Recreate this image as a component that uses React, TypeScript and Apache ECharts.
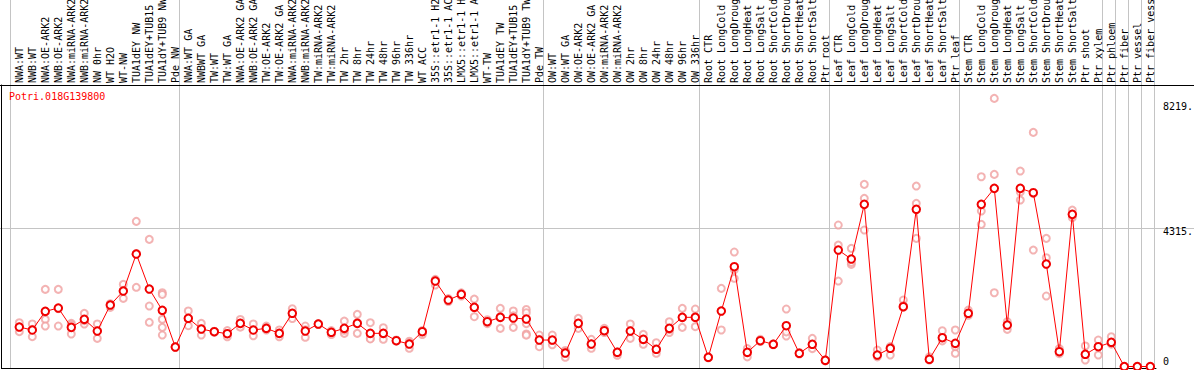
import React, { useEffect, useRef } from 'react';
import * as echarts from 'echarts';

const geneId = 'Potri.018G139800';

const categories = [
  'NWA:WT', 'NWB:WT', 'NWA:OE-ARK2', 'NWB:OE-ARK2', 'NWA:miRNA-ARK2', 'NWB:miRNA-ARK2', 'NW 0hr', 'WT H2O', 'WT-NW',
  'TUA1dEY NW', 'TUA1dEY+TUB15', 'TUA1dY+TUB9 NW', 'Pde NW',
  'NWA:WT GA', 'NWBWT GA', 'TW:WT', 'TW:WT GA', 'NWA:OE-ARK2 GA', 'NWB:OE-ARK2 GA', 'TW:OE-ARK2', 'TW:OE-ARK2 GA',
  'NWA:miRNA-ARK2', 'NWB:miRNA-ARK2', 'TW:miRNA-ARK2', 'TW:miRNA-ARK2', 'TW 2hr', 'TW 8hr', 'TW 24hr', 'TW 48hr',
  'TW 96hr', 'TW 336hr', 'WT ACC', '35S::etr1-1 H2O', '35S::etr1-1 ACC', 'LMX5::etr1-1 H2O', 'LMX5::etr1-1 ACC',
  'WT-TW', 'TUA1dEY TW', 'TUA1dEY+TUB15', 'TUA1dY+TUB9 TW', 'Pde TW',
  'OW:WT', 'OW:WT GA', 'OW:OE-ARK2', 'OW:OE-ARK2 GA', 'OW:miRNA-ARK2', 'OW:miRNA-ARK2', 'OW 2hr', 'OW 8hr',
  'OW 24hr', 'OW 48hr', 'OW 96hr', 'OW 336hr',
  'Root CTR', 'Root LongCold', 'Root LongDrought', 'Root LongHeat', 'Root LongSalt', 'Root ShortCold',
  'Root ShortDrought', 'Root ShortHeat', 'Root ShortSalt', 'Ptr root',
  'Leaf CTR', 'Leaf LongCold', 'Leaf LongDrought', 'Leaf LongHeat', 'Leaf LongSalt', 'Leaf ShortCold',
  'Leaf ShortDrought', 'Leaf ShortHeat', 'Leaf ShortSalt', 'Ptr leaf',
  'Stem CTR', 'Stem LongCold', 'Stem LongDrought', 'Stem LongHeat', 'Stem LongSalt', 'Stem ShortCold',
  'Stem ShortDrought', 'Stem ShortHeat', 'Stem ShortSalt', 'Ptr shoot', 'Ptr xylem',
  'Ptr phloem', 'Ptr fiber', 'Ptr vessel', 'Ptr fiber vessel',
];

// category index where each sample group starts (and the end)
const groupBoundaries = [0, 13, 41, 53, 63, 73, 84, 85, 86, 87, 88];

const meanValues = [
  1233, 1140, 1723, 1826, 1223, 1473, 1108, 1920, 2357, 3512, 2420, 1754, 609,
  1505, 1171, 1087, 1024, 1348, 1140, 1192, 1036, 1661, 1108, 1327, 1068, 1192, 1348, 1036, 1036,
  806, 702, 1087, 2669, 2076, 2254, 1848, 1399, 1536, 1514, 1483, 827,
  827, 421, 1348, 702, 1118, 443, 1108, 849, 537, 1192, 1536, 1536,
  287, 1733, 3116, 443, 806, 693, 1274, 412, 693, 193,
  3637, 3356, 5064, 359, 568, 1867, 4908, 225, 899, 724,
  1661, 5064, 5563, 1296, 5563, 5427, 3200, 462, 4751, 381, 618,
  755, 0, 0, 0,
];

const replicateValues = [
  [1368, 1233, 1087], [1327, 1160, 931], [2410, 1474, 1264], [2410, 1264, 1805], [1348, 1300, 1015],
  [1661, 1327, 1430], [1327, 1108, 880], [1848, 1960, 1940], [2566, 2129, 2380], [4533, 2473, 3530],
  [3971, 1889, 1380], [2304, 2250, 1474, 1223, 983], [609, 620, 600],
  [1733, 1274, 1505], [1348, 983, 1180], [1087, 1100, 1070], [1120, 930, 1024], [1470, 1230, 1348],
  [1327, 960, 1140], [1260, 1192, 1140], [1140, 930, 1036], [1805, 1500, 1661], [1264, 912, 1150],
  [1327, 1340, 1310], [1120, 1000, 1068], [1420, 1036, 1130], [1630, 1036, 1380], [1368, 880, 860],
  [1212, 849, 1040], [806, 830, 790], [790, 568, 740], [1120, 1000, 1087], [2720, 2544, 2700],
  [2120, 2030, 2076], [2300, 2254, 2200], [2107, 1555, 1850], [1460, 1340, 1399], [1817, 1192, 1560],
  [1733, 1223, 1580], [1780, 1680, 1340, 1015, 980], [983, 618, 850],
  [983, 680, 820], [500, 287, 470], [1505, 1190, 1348], [849, 568, 700], [1192, 1060, 1118],
  [443, 350, 460], [1327, 880, 1108], [1005, 693, 849], [743, 412, 537], [1399, 1060, 1150],
  [1817, 1223, 1536], [1795, 1243, 1560],
  [287, 300, 270], [2441, 1140, 1733], [3575, 2754, 3020], [560, 300, 443], [850, 780, 806],
  [693, 710, 680], [1795, 952, 1080], [412, 440, 390], [880, 560, 693], [193, 210, 180],
  [4418, 3793, 2669], [3690, 3191, 3250], [5688, 5251, 4262], [515, 300, 359], [620, 359, 580],
  [2076, 1850, 1900], [5635, 5095, 4002], [300, 200, 225], [1118, 800, 900], [1140, 412, 620],
  [1760, 1600, 1661], [5926, 4855, 4439], [8373, 6000, 2304], [1161, 1400, 1296], [6104, 5450, 5198],
  [7311, 5400, 3637], [4002, 3397, 2201], [560, 400, 462], [4886, 4650, 4751], [640, 203, 381],
  [827, 359, 618],
  [931, 700, 755], [0], [0], [0],
];

const yTickValues = [0, 4315, 8219];
const yTickLabels = ['0', '4315.', '8219.'];
const yGridValues = [4315];

const MONO = '"DejaVu Sans Mono", "Liberation Mono", monospace';
const GRID_COLOR = '#c4c4c4';

export default function App() {
  const ref = useRef<HTMLDivElement>(null);

  useEffect(() => {
    if (!ref.current) return;
    const chart = echarts.init(ref.current, undefined, { renderer: 'svg' });

    const scatterData: [number, number][] = [];
    replicateValues.forEach((arr, i) => arr.forEach((v) => scatterData.push([i, v])));

    const yMin = -62;
    const yMax = 8791;
    const hidden = {
      axisLine: { show: false },
      axisTick: { show: false },
      axisLabel: { show: false },
      splitLine: { show: false },
    };

    chart.setOption({
      animation: false,
      backgroundColor: '#ffffff',
      title: {
        text: geneId,
        left: 9,
        top: 91,
        padding: 0,
        textStyle: { color: '#ff0000', fontFamily: MONO, fontSize: 10, fontWeight: 'normal' },
      },
      grid: [
        { left: 12.8, width: 1144, top: 85, bottom: 1.5, containLabel: false, outerBoundsMode: 'none' },
        { left: 0, right: 0, top: 85, bottom: 1.5, containLabel: false, outerBoundsMode: 'none' },
        { left: 1.5, right: 38, top: 85, bottom: 1.5, containLabel: false, outerBoundsMode: 'none' },
      ],
      xAxis: [
        {
          type: 'category',
          gridIndex: 0,
          position: 'top',
          data: categories,
          boundaryGap: true,
          axisLine: { show: false },
          axisTick: { show: false },
          splitLine: { show: false },
          axisLabel: {
            interval: 0,
            rotate: 90,
            margin: 2,
            fontFamily: MONO,
            fontSize: 10,
            color: '#000000',
            hideOverlap: false,
          },
        },
        {
          type: 'value',
          gridIndex: 1,
          position: 'top',
          min: (0 - 10.7) / 13,
          max: (1194 - 10.7) / 13,
          axisLine: { show: true, onZero: false, lineStyle: { color: '#000', width: 1 } },
          axisLabel: { show: false },
          axisTick: {
            show: true,
            inside: false,
            length: 85,
            customValues: groupBoundaries,
            lineStyle: { color: GRID_COLOR, width: 1 },
          },
          splitLine: { show: true, lineStyle: { color: GRID_COLOR, width: 1 } },
        },
        {
          type: 'value',
          gridIndex: 2,
          position: 'bottom',
          min: 0,
          max: 1,
          ...hidden,
          axisLine: { show: true, onZero: false, lineStyle: { color: '#000', width: 1 } },
        },
      ],
      yAxis: [
        { type: 'value', gridIndex: 0, min: yMin, max: yMax, show: false },
        {
          type: 'value',
          gridIndex: 1,
          position: 'right',
          min: yMin,
          max: yMax,
          axisLine: { show: false },
          axisTick: { show: false, customValues: yGridValues },
          splitLine: { show: true, lineStyle: { color: GRID_COLOR, width: 1 } },
          axisLabel: {
            inside: true,
            align: 'left',
            margin: 31,
            customValues: yTickValues,
            color: '#000000',
            fontFamily: MONO,
            fontSize: 10,
            formatter: (v: number) => {
              const idx = yTickValues.indexOf(v);
              const s = idx >= 0 ? yTickLabels[idx] : String(v);
              return v === 0 ? `{b|${s}}` : `{t|${s}}`;
            },
            rich: {
              t: { fontFamily: MONO, fontSize: 10, color: '#000', padding: [7, 0, 0, 0] },
              b: { fontFamily: MONO, fontSize: 10, color: '#000', padding: [0, 0, 10, 0] },
            },
          },
        },
        {
          type: 'value',
          gridIndex: 2,
          position: 'left',
          min: 0,
          max: 1,
          ...hidden,
          axisLine: { show: true, onZero: false, lineStyle: { color: '#000', width: 1 } },
        },
      ],
      series: [
        {
          type: 'scatter',
          xAxisIndex: 0,
          yAxisIndex: 0,
          data: scatterData,
          symbol: 'emptyCircle',
          symbolSize: 7,
          itemStyle: { color: '#f0a0a0', borderColor: '#f0a0a0', borderWidth: 1 },
          z: 2,
        },
        {
          type: 'line',
          xAxisIndex: 0,
          yAxisIndex: 0,
          data: meanValues,
          symbol: 'emptyCircle',
          symbolSize: 7.5,
          lineStyle: { color: '#ff0000', width: 1 },
          itemStyle: { color: '#f00000', borderColor: '#f00000', borderWidth: 1.3 },
          z: 3,
        },
      ],
    });

    return () => chart.dispose();
  }, []);

  return (
    <div
      ref={ref}
      style={{ position: 'absolute', left: 0, top: 0, width: 1194, height: 370 }}
    />
  );
}
